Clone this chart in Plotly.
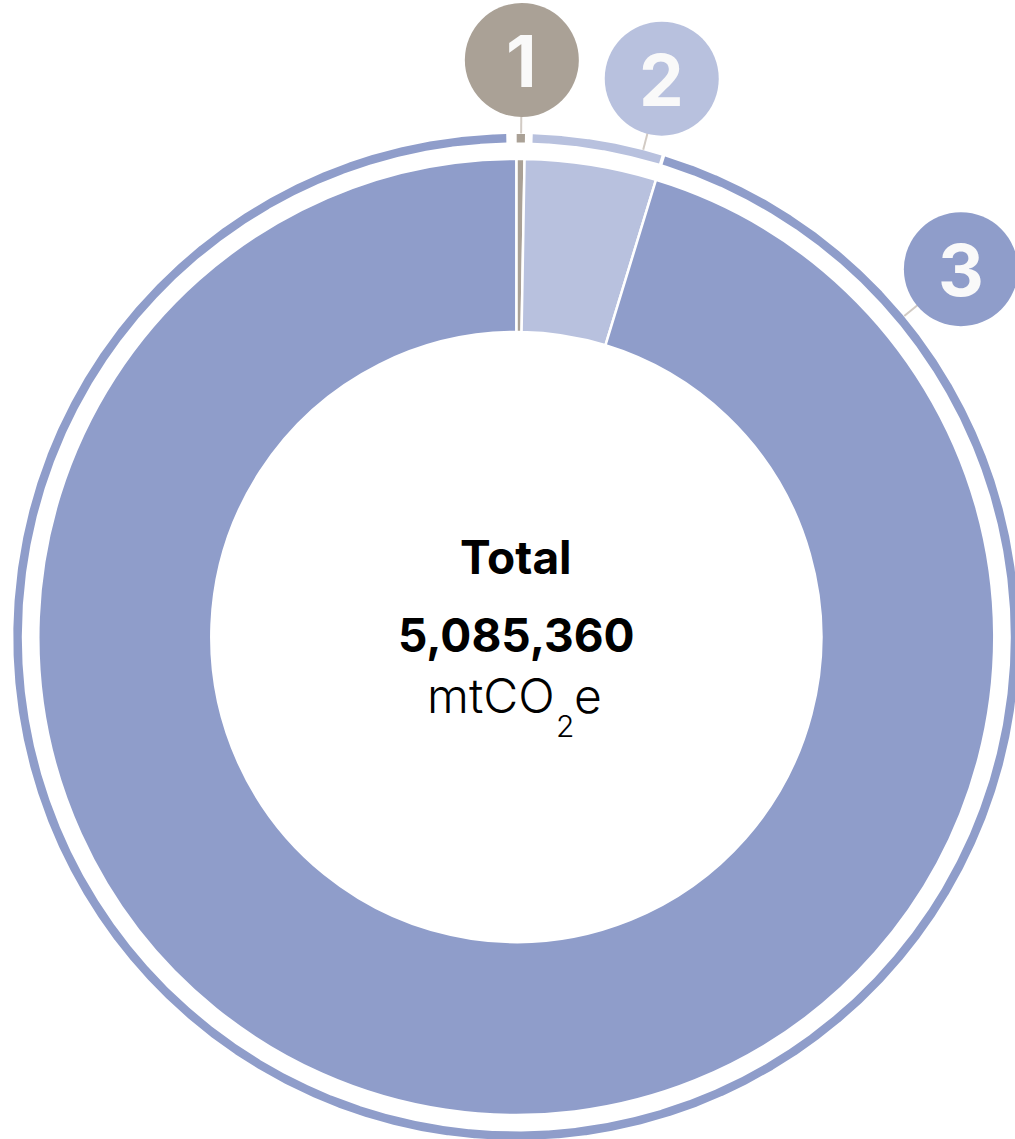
import numpy as np
import plotly.graph_objects as go

# ---------------- data ----------------
scopes = ["Scope 1", "Scope 2", "Scope 3"]
badge_labels = ["1", "2", "3"]
emissions = [14000, 226000, 4845360]          # mtCO2e
total_title = "Total"
total_label = "5,085,360"
unit_parts = ["mtCO", "2", "e"]               # mtCO₂e
colors = ["#aaa196", "#b8c1de", "#8f9dca"]

# ---------------- geometry / styling ----------------
W, H = 1015, 1139
CX, CY = 516.3, 637.0
R_OUT, R_IN = 478.0, 305.0
RING_IN, RING_OUT = 494.5, 503.0
RING_MID = (RING_IN + RING_OUT) / 2
# padding (px) at start / end of each ring segment
RING_PADS = [(0.4, 0.0), (7.7, 1.85), (1.85, 10.0)]
BADGE_R, BADGE_SIZE = 577.0, 114
BADGE_ANGLES = [0.55, 14.6, 50.4]
LEADER_COLOR = "#d2cbc4"
FONT = "Inter"
INK = "#000000"

fig = go.Figure()

# main donut
fig.add_trace(go.Pie(
    labels=scopes, values=emissions, sort=False, direction="clockwise", rotation=0,
    hole=R_IN / R_OUT, textinfo="none", hoverinfo="label+value",
    marker=dict(colors=colors, line=dict(color="white", width=2.5)),
    domain=dict(x=[(CX - R_OUT) / W, (CX + R_OUT) / W],
                y=[(H - CY - R_OUT) / H, (H - CY + R_OUT) / H]),
    showlegend=False,
))

def pt(theta_deg, r):
    t = np.radians(theta_deg)
    return CX + r * np.sin(t), CY - r * np.cos(t)

# outer thin ring, segments from the same data
vals = np.array(emissions, dtype=float)
bounds = np.concatenate([[0.0], np.cumsum(vals) / vals.sum() * 360.0])
px2deg = 180.0 / np.pi / RING_MID
for i, name in enumerate(scopes):
    a0 = bounds[i] + RING_PADS[i][0] * px2deg
    a1 = bounds[i + 1] - RING_PADS[i][1] * px2deg
    n = max(4, int((a1 - a0) * 8))
    th = np.linspace(a0, a1, n)
    xo, yo = pt(th, RING_OUT)
    xi, yi = pt(th[::-1], RING_IN)
    fig.add_trace(go.Scatter(
        x=np.concatenate([xo, xi, xo[:1]]), y=np.concatenate([yo, yi, yo[:1]]),
        mode="lines", fill="toself", fillcolor=colors[i], line=dict(width=0, color=colors[i]),
        hoverinfo="skip", showlegend=False,
    ))

# leader lines
lx, ly = [], []
for a in BADGE_ANGLES:
    x0, y0 = pt(a, RING_OUT + 0.5)
    x1, y1 = pt(a, BADGE_R - BADGE_SIZE / 2 + 1)
    lx += [x0, x1, None]
    ly += [y0, y1, None]
fig.add_trace(go.Scatter(x=lx, y=ly, mode="lines", line=dict(color=LEADER_COLOR, width=2),
                         hoverinfo="skip", showlegend=False))

# badges
bx, by = pt(np.array(BADGE_ANGLES), BADGE_R)
fig.add_trace(go.Scatter(
    x=bx, y=by, mode="markers",
    marker=dict(size=BADGE_SIZE, color=colors, line=dict(width=0)),
    hoverinfo="skip", showlegend=False, cliponaxis=False,
))
for lab, x, y in zip(badge_labels, bx, by):
    fig.add_annotation(xref="x", yref="y", x=x, y=y, text=lab, showarrow=False,
                       xanchor="center", yanchor="middle", yshift=-1,
                       font=dict(family=FONT, size=71, color="#f9f9f9", weight=700))

# centre texts
ann = [
    dict(text=total_title, x=CX, y=557, font=dict(family=FONT, size=46, color=INK, weight=700)),
    dict(text=total_label, x=CX, y=635, font=dict(family=FONT, size=46, color=INK, weight=700)),
    dict(text=unit_parts[0], x=557, y=695, xanchor="right", font=dict(family=FONT, size=48, color=INK, weight=300)),
    dict(text=unit_parts[1], x=564.5, y=726, font=dict(family=FONT, size=30, color=INK, weight=300)),
    dict(text=unit_parts[2], x=572, y=695, xanchor="left", font=dict(family=FONT, size=48, color=INK, weight=300)),
]
for a in ann:
    a.setdefault("xanchor", "center")
    fig.add_annotation(xref="x", yref="y", yanchor="middle", showarrow=False, **a)

fig.update_layout(
    width=W, height=H, margin=dict(l=0, r=0, t=0, b=0),
    paper_bgcolor="white", plot_bgcolor="white",
    xaxis=dict(range=[0, W], visible=False, fixedrange=True),
    yaxis=dict(range=[H, 0], visible=False, fixedrange=True),
)

fig.write_html("out.html", config={"displayModeBar": False},
               post_script="document.body.style.margin='0';")
